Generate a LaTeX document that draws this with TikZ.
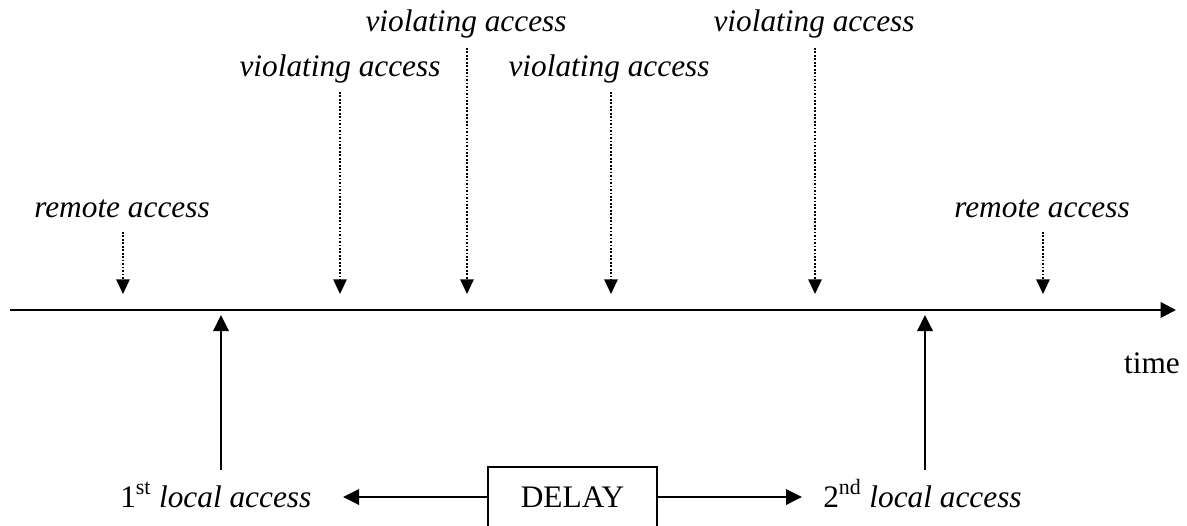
\documentclass[tikz,border=0pt]{standalone}
\usepackage{fontspec}
\setmainfont{Liberation Serif}
\usetikzlibrary{arrows.meta}
\tikzset{
  lbl/.style={font=\fontsize{23.5}{27}\selectfont\itshape, inner sep=0pt, anchor=base},
  plain/.style={font=\fontsize{23.5}{27}\selectfont, inner sep=0pt, anchor=base},
  axis/.style={line width=1.8pt, -{Triangle[length=11.5pt,width=11.5pt]}},
  probe/.style={line width=1.4pt, dash pattern=on 1.3pt off 1.3pt, -{Triangle[length=11pt,width=10pt]}},
  solidarr/.style={line width=1.8pt, -{Triangle[length=12pt,width=11.5pt]}},
  delaybox/.style={draw, line width=1pt, minimum width=126.75pt, minimum height=45pt, inner sep=0pt, font=\fontsize{23.5}{27}\selectfont}
}
\begin{document}
\begin{tikzpicture}[x=0.75pt,y=-0.75pt]
\useasboundingbox (0,0) rectangle (1187,525);
% time axis
\coordinate (t0) at (10,310);
\coordinate (t1) at (1176,310);
\draw[axis] (t0) -- (t1);
\node[plain] (time) at (1152,373) {time};

% accesses from the remote side
\node[lbl] (r1) at (122,217) {remote access};
\node[lbl] (r2) at (1042,217) {remote access};
\node[lbl] (v1) at (340,76) {violating access};
\node[lbl] (v2) at (466,31) {violating access};
\node[lbl] (v3) at (609,76) {violating access};
\node[lbl] (v4) at (814,31) {violating access};

\coordinate (r1a) at (123,232);  \coordinate (r1b) at (123,294);
\coordinate (r2a) at (1043,232); \coordinate (r2b) at (1043,294);
\coordinate (v1a) at (340,92);   \coordinate (v1b) at (340,294);
\coordinate (v2a) at (467,48);   \coordinate (v2b) at (467,294);
\coordinate (v3a) at (611,92);   \coordinate (v3b) at (611,294);
\coordinate (v4a) at (815,48);   \coordinate (v4b) at (815,294);
\foreach \p in {r1,r2,v1,v2,v3,v4}
  \draw[probe] (\p a) -- (\p b);

% local accesses
\coordinate (l1a) at (221,470); \coordinate (l1b) at (221,315);
\coordinate (l2a) at (925,470); \coordinate (l2b) at (925,315);
\draw[solidarr] (l1a) -- (l1b);
\draw[solidarr] (l2a) -- (l2b);

\node[plain, anchor=base west] (loc1) at (120,507) {1\textsuperscript{st} \textit{local access}};
\node[plain, anchor=base west] (loc2) at (823,507) {2\textsuperscript{nd} \textit{local access}};

% delay between the two local accesses
\node[delaybox] (delay) at (572.5,497) {DELAY};
\coordinate (dl) at (343,497);
\coordinate (dr) at (802,497);
\draw[solidarr] (delay.west) -- (dl);
\draw[solidarr] (delay.east) -- (dr);
\end{tikzpicture}
\end{document}
